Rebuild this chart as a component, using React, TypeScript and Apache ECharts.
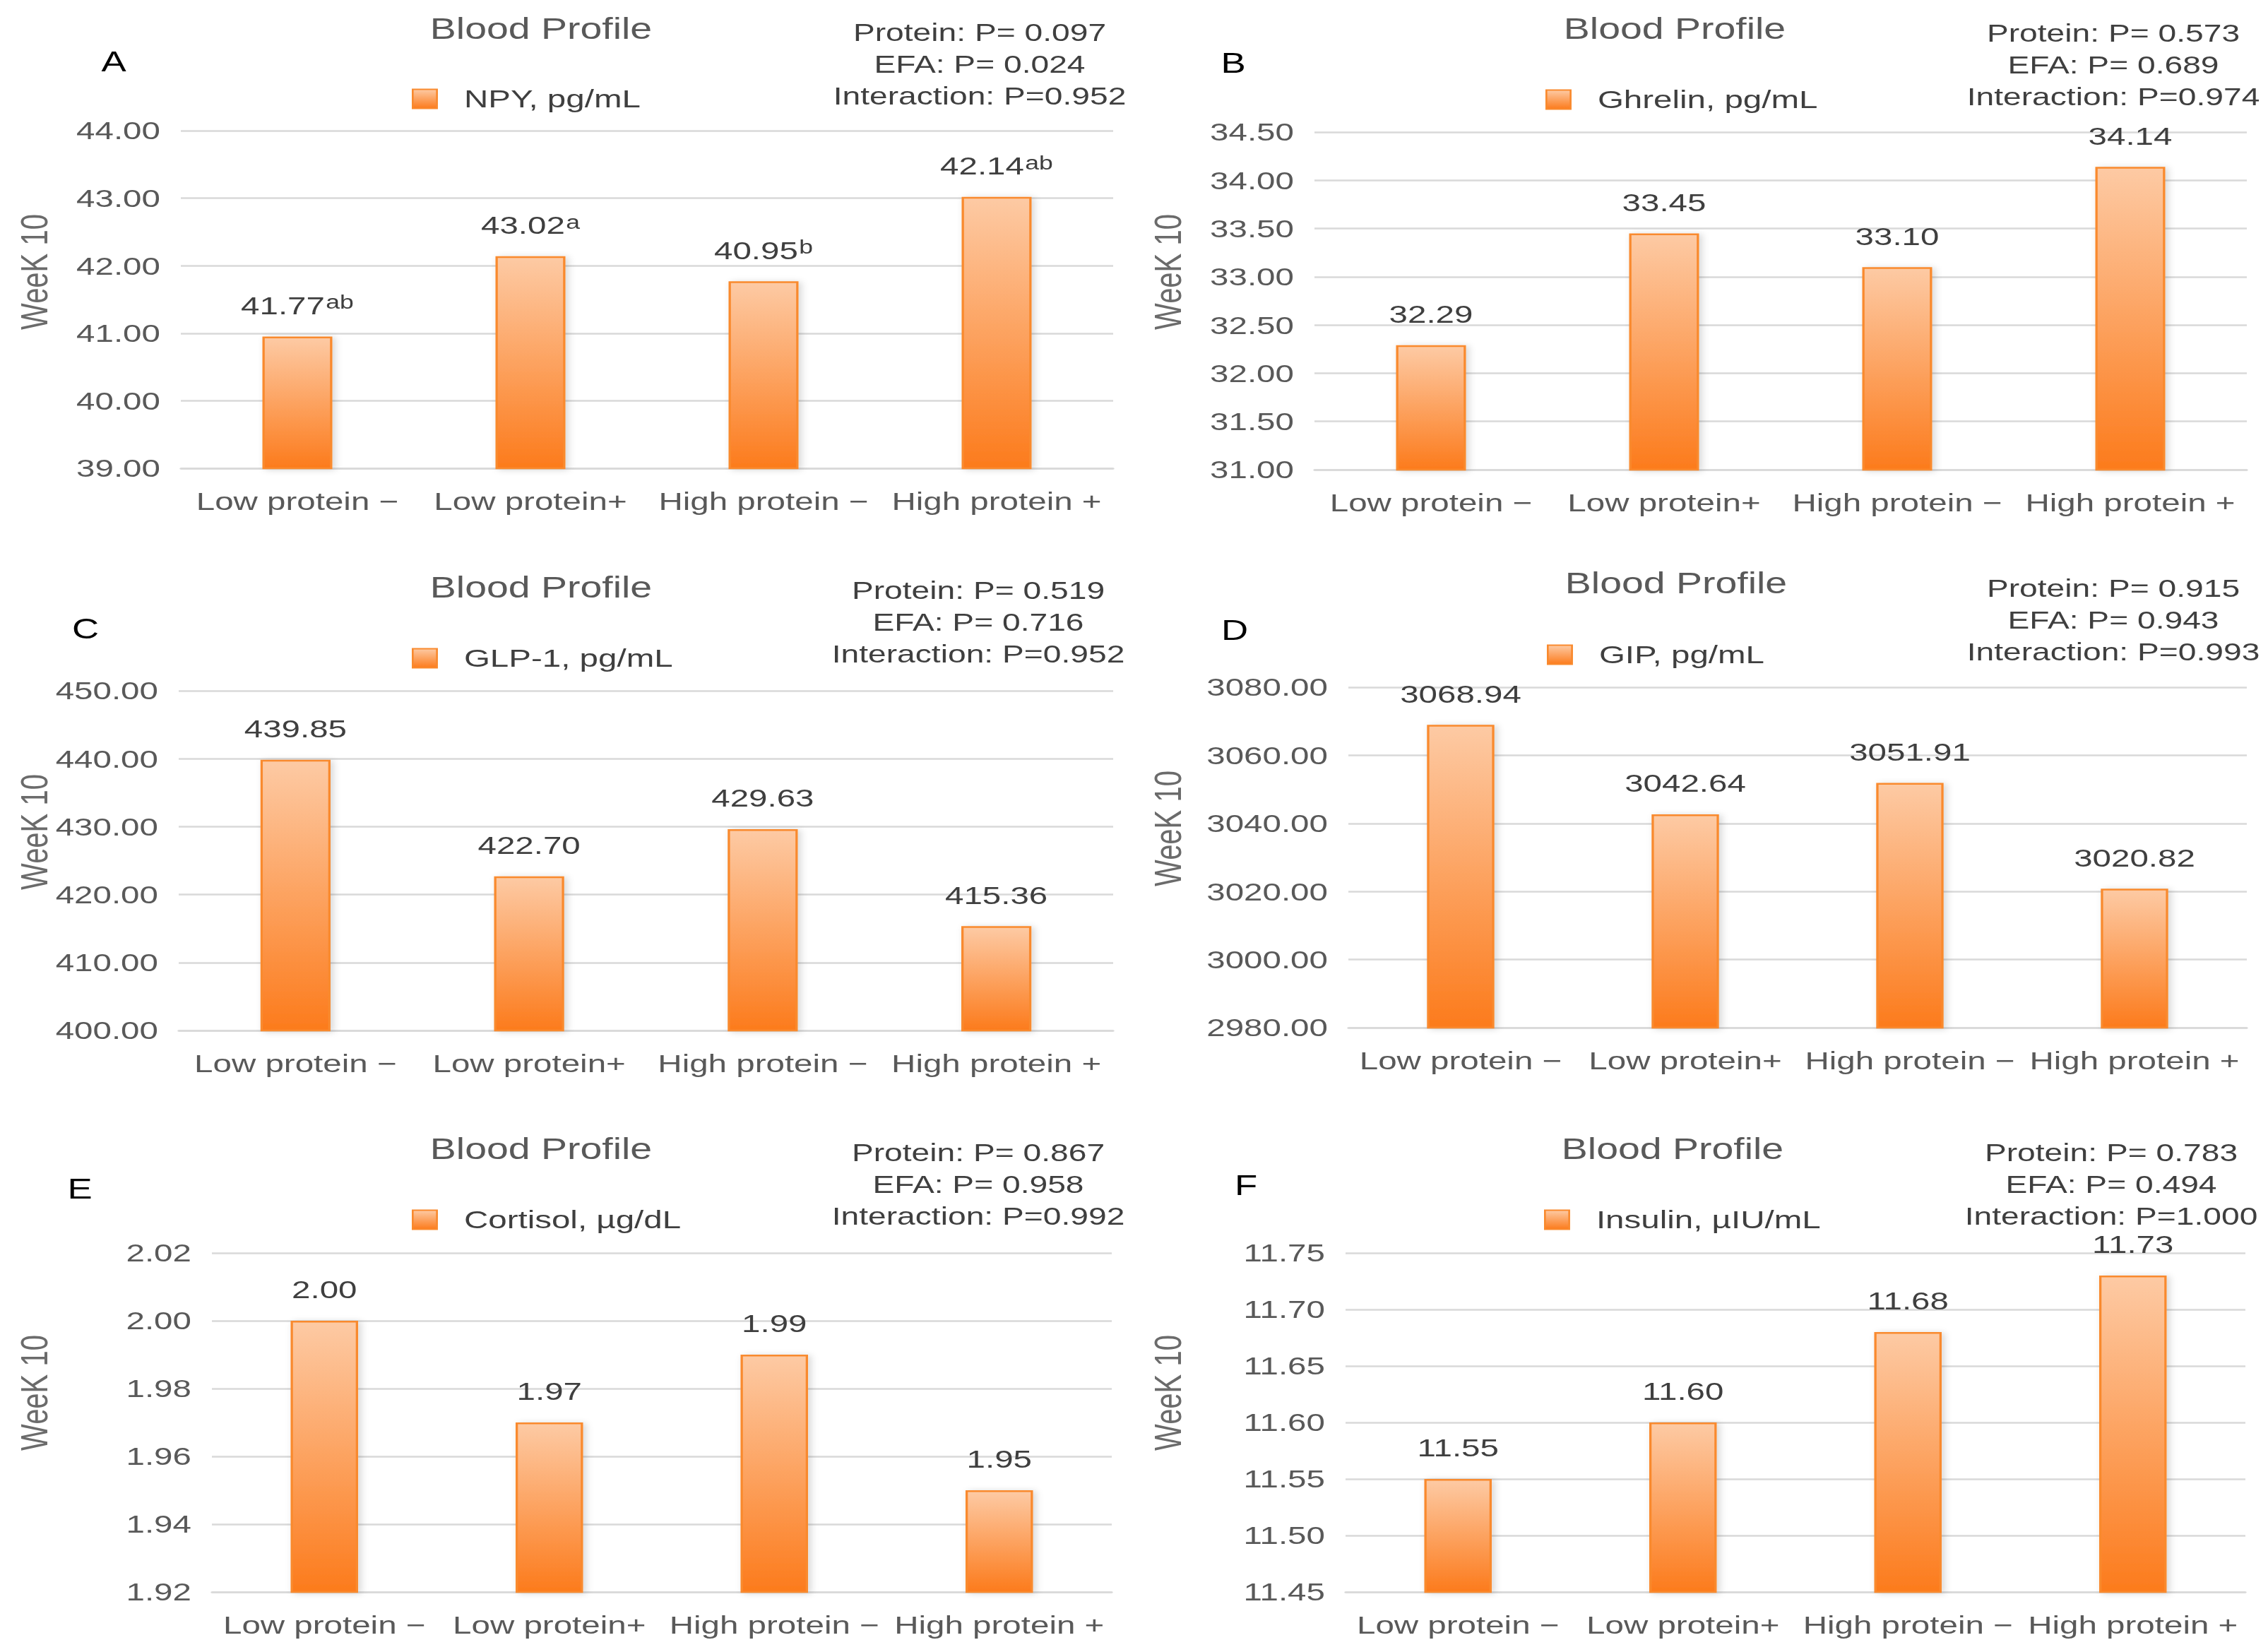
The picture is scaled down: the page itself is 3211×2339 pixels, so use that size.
import React, { useEffect, useRef } from "react";
import * as echarts from "echarts";

// ---------- data ----------
const categories = ["Low protein −", "Low protein+", "High protein −", "High protein +"];
const seriesNames = [
  "NPY, pg/mL",
  "Ghrelin, pg/mL",
  "GLP-1, pg/mL",
  "GIP, pg/mL",
  "Cortisol, µg/dL",
  "Insulin, µIU/mL",
];
const npyValues = [40.95, 42.14, 41.77, 43.02];
const npyLabels = ["41.77", "43.02", "40.95", "42.14"];
const npyLetters = ["ab", "a", "b", "ab"];
const ghrelinValues = [32.29, 33.45, 33.1, 34.14];
const glp1Values = [439.85, 422.7, 429.63, 415.36];
const gipValues = [3068.94, 3042.64, 3051.91, 3020.82];
const cortisolValues = [2.0, 1.97, 1.99, 1.95];
const insulinValues = [11.55, 11.6, 11.68, 11.73];

const yMin = [39, 31, 400, 2980, 1.92, 11.45];
const yMax = [44, 34.5, 450, 3080, 2.02, 11.75];
const yStep = [1, 0.5, 10, 20, 0.02, 0.05];

const panelLetters = ["A", "B", "C", "D", "E", "F"];
const pProtein = ["0.097", "0.573", "0.519", "0.915", "0.867", "0.783"];
const pEFA = ["0.024", "0.689", "0.716", "0.943", "0.958", "0.494"];
const pInteraction = ["0.952", "0.974", "0.952", "0.993", "0.992", "1.000"];
const panelTitle = "Blood Profile";
const yAxisTitle = "WeeK 10";

const valueSets = [npyValues, ghrelinValues, glp1Values, gipValues, cortisolValues, insulinValues];
const labelSets: (string[] | null)[] = [npyLabels, null, null, null, null, null];
const supSets: (string[] | null)[] = [npyLetters, null, null, null, null, null];

// ---------- layout (reference pixel coordinates) ----------
const PAGE_W = 3211;
const PAGE_H = 2339;
const S = 1.32; // horizontal stretch of the reference
const W = PAGE_W / S;

const layout = [
  { grid: [256, 1576, 185, 663], title: [766, 40], letter: [161, 87], stats: [1387, 46], legend: [583, 140], yname: [49, 385] },
  { grid: [1861, 3181, 187, 665], title: [2371, 40], letter: [1746, 89], stats: [2992, 47], legend: [2188, 141], yname: [1654, 385] },
  { grid: [253, 1576, 978, 1459], title: [766, 831], letter: [121, 890], stats: [1385, 836], legend: [583, 932], yname: [49, 1178] },
  { grid: [1909, 3181, 973, 1455], title: [2373, 825], letter: [1748, 892], stats: [2992, 833], legend: [2190, 927], yname: [1654, 1173] },
  { grid: [300, 1574, 1774, 2254], title: [766, 1626], letter: [113, 1683], stats: [1385, 1632], legend: [583, 1727], yname: [49, 1972] },
  { grid: [1905, 3179, 1774, 2254], title: [2368, 1626], letter: [1764, 1678], stats: [2989, 1632], legend: [2186, 1727], yname: [1654, 1972] },
];

const FONT = "'Liberation Sans', Arial, Helvetica, sans-serif";
const GRID_COLOR = "#d9d9d9";
const AXIS_TEXT = "#595959";
const DARK_TEXT = "#3f3f3f";

function buildOption() {
  const grids: any[] = [];
  const xAxes: any[] = [];
  const yAxes: any[] = [];
  const series: any[] = [];
  const legends: any[] = [];
  const graphics: any[] = [];

  layout.forEach((L, i) => {
    const [l, r, t, b] = L.grid;
    grids.push({ left: l / S, top: t, width: (r - l) / S, height: b - t, containLabel: false });
    xAxes.push({
      type: "category",
      gridIndex: i,
      data: categories,
      axisTick: { show: false },
      axisLine: { show: true, lineStyle: { color: GRID_COLOR, width: 2.5 } },
      axisLabel: { interval: 0, fontSize: 36, color: AXIS_TEXT, margin: 29, fontFamily: FONT },
    });
    yAxes.push({
      type: "value",
      gridIndex: i,
      min: yMin[i],
      max: yMax[i],
      interval: yStep[i],
      axisLine: { show: false },
      axisTick: { show: false },
      splitLine: { show: true, lineStyle: { color: GRID_COLOR, width: 2.5 } },
      axisLabel: {
        fontSize: 36,
        color: AXIS_TEXT,
        margin: 22,
        fontFamily: FONT,
        formatter: (v: number) => v.toFixed(2),
      },
    });
    const labels = labelSets[i];
    const sups = supSets[i];
    series.push({
      type: "bar",
      name: seriesNames[i],
      xAxisIndex: i,
      yAxisIndex: i,
      data: valueSets[i],
      barWidth: "30%",
      itemStyle: {
        color: new echarts.graphic.LinearGradient(0, 0, 0, 1, [
          { offset: 0, color: "#fdcaa4" },
          { offset: 1, color: "#fc7b1c" },
        ]),
        borderColor: "#f98a2e",
        borderWidth: 2.5,
        shadowBlur: 8,
        shadowColor: "rgba(0,0,0,0.16)",
        shadowOffsetX: 3,
        shadowOffsetY: 1,
      },
      label: {
        show: true,
        position: "top",
        distance: 26,
        formatter: (p: any) => {
          const k = p.dataIndex;
          const main = labels ? labels[k] : Number(p.value).toFixed(2);
          return sups ? `{n|${main}}{s|${sups[k]}}` : `{n|${main}}`;
        },
        rich: {
          n: { fontSize: 36, color: DARK_TEXT, fontFamily: FONT },
          s: { fontSize: 27, color: DARK_TEXT, fontFamily: FONT, verticalAlign: "top", padding: [0, 0, 0, 1] },
        },
      },
    });
    legends.push({
      data: [seriesNames[i]],
      left: L.legend[0] / S,
      top: L.legend[1] - 18,
      padding: 0,
      itemWidth: 26,
      itemHeight: 27,
      icon: "rect",
      selectedMode: false,
      formatter: "{t|{name}}",
      textStyle: {
        rich: { t: { fontSize: 36, lineHeight: 36, color: DARK_TEXT, fontFamily: FONT, padding: [0, 0, 0, 24] } },
      },
    });
    graphics.push({
      type: "text",
      x: L.title[0] / S,
      y: L.title[1],
      style: { text: panelTitle, fontSize: 42, fontFamily: FONT, fill: AXIS_TEXT, align: "center", verticalAlign: "middle" },
    });
    graphics.push({
      type: "text",
      x: L.letter[0] / S,
      y: L.letter[1],
      style: { text: panelLetters[i], fontSize: 40, fontFamily: FONT, fill: "#000000", align: "center", verticalAlign: "middle" },
    });
    graphics.push({
      type: "text",
      x: L.stats[0] / S,
      y: L.stats[1] - 22.5,
      style: {
        text: `Protein: P= ${pProtein[i]}\nEFA: P= ${pEFA[i]}\nInteraction: P=${pInteraction[i]}`,
        fontSize: 35,
        lineHeight: 45,
        fontFamily: FONT,
        fill: DARK_TEXT,
        align: "center",
        verticalAlign: "top",
      },
    });
    graphics.push({
      type: "text",
      x: L.yname[0] / S,
      y: L.yname[1],
      rotation: Math.PI / 2,
      style: { text: yAxisTitle, fontSize: 40, fontFamily: FONT, fill: "#6b6b6b", align: "center", verticalAlign: "middle" },
    });
  });

  return {
    animation: false,
    backgroundColor: "#ffffff",
    textStyle: { fontFamily: FONT },
    grid: grids,
    xAxis: xAxes,
    yAxis: yAxes,
    legend: legends,
    series,
    graphic: { elements: graphics },
  };
}

export default function App() {
  const ref = useRef<HTMLDivElement | null>(null);
  useEffect(() => {
    if (!ref.current) return;
    const chart = echarts.init(ref.current, undefined, { renderer: "svg" });
    chart.setOption(buildOption() as any);
    return () => chart.dispose();
  }, []);
  return (
    <div
      style={{
        position: "fixed",
        left: 0,
        top: 0,
        width: PAGE_W,
        height: PAGE_H,
        overflow: "hidden",
        background: "#ffffff",
      }}
    >
      <div
        ref={ref}
        style={{
          width: W,
          height: PAGE_H,
          transform: `scaleX(${S})`,
          transformOrigin: "0 0",
        }}
      />
    </div>
  );
}
